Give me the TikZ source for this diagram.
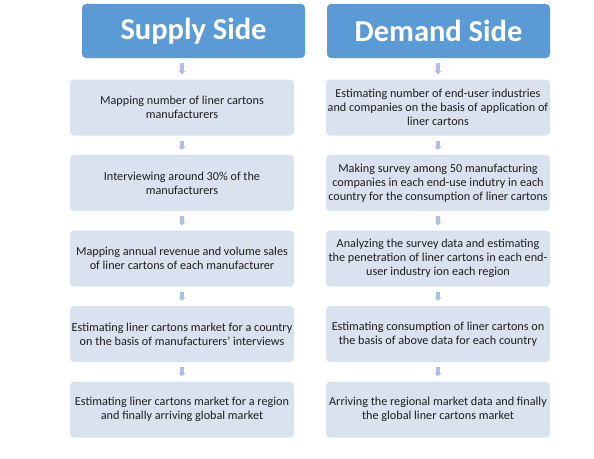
\documentclass[tikz,border=0pt]{standalone}
\usepackage{fontspec}
\setmainfont{Carlito}
\usepackage{xcolor}
\definecolor{headblue}{HTML}{5B9BD5}
\definecolor{stepfill}{HTML}{DAE2F0}
\definecolor{flowline}{HTML}{AFC0DE}
\definecolor{steptext}{HTML}{1E1E1E}
\usetikzlibrary{arrows.meta}

\begin{document}
\begin{tikzpicture}[
            x=1pt,y=-1pt,
            headbox/.style={rounded corners=4pt, fill=headblue, text=white, font=\fontsize{30.5}{33}\selectfont\bfseries, minimum width=223pt, minimum height=54pt, inner sep=0pt},
            stepbox/.style={rounded corners=4pt, fill=stepfill, text=steptext, font=\fontsize{12.2}{14}\selectfont, align=center, minimum width=224pt, minimum height=56pt, inner sep=0pt},
            flow/.style={-{Triangle[length=3.5pt,width=7pt]}, line width=4pt, draw=flowline, shorten <=5pt, shorten >=5pt}
        ]
            \fill[white] (0,0) rectangle (594,458);
            \useasboundingbox (0,0) rectangle (594,458);

            % supply side
            \node[headbox] (sh) at (193.5,31) {Supply Side};
            \node[stepbox] (s1) at (182,107.5) {Mapping number of liner cartons\\manufacturers};
            \node[stepbox] (s2) at (182,183) {Interviewing around 30\% of the\\manufacturers};
            \node[stepbox] (s3) at (182,258.5) {Mapping annual revenue and volume sales\\of liner cartons of each manufacturer};
            \node[stepbox] (s4) at (182,334) {Estimating liner cartons market for a country\\on the basis of manufacturers' interviews};
            \node[stepbox] (s5) at (182,409.5) {Estimating liner cartons market for a region\\and finally arriving global market};
            \draw[flow] (sh.south -| s1.north) -- (s1.north);
            \draw[flow] (s1) -- (s2);
            \draw[flow] (s2) -- (s3);
            \draw[flow] (s3) -- (s4);
            \draw[flow] (s4) -- (s5);

            % demand side
            \node[headbox] (dh) at (438.5,31) {Demand Side};
            \node[stepbox] (d1) at (438,107.5) {Estimating number of end-user industries\\and companies on the basis of application of\\liner cartons};
            \node[stepbox] (d2) at (438,183) {Making survey among 50 manufacturing\\companies in each end-use indutry in each\\country for the consumption of liner cartons};
            \node[stepbox] (d3) at (438,258.5) {Analyzing the survey data and estimating\\the penetration of liner cartons in each end-\\user industry ion each region};
            \node[stepbox] (d4) at (438,334) {Estimating consumption of liner cartons on\\the basis of above data for each country};
            \node[stepbox] (d5) at (438,409.5) {Arriving the regional market data and finally\\the global liner cartons market};
            \draw[flow] (dh.south -| d1.north) -- (d1.north);
            \draw[flow] (d1) -- (d2);
            \draw[flow] (d2) -- (d3);
            \draw[flow] (d3) -- (d4);
            \draw[flow] (d4) -- (d5);
        \end{tikzpicture}
\end{document}
